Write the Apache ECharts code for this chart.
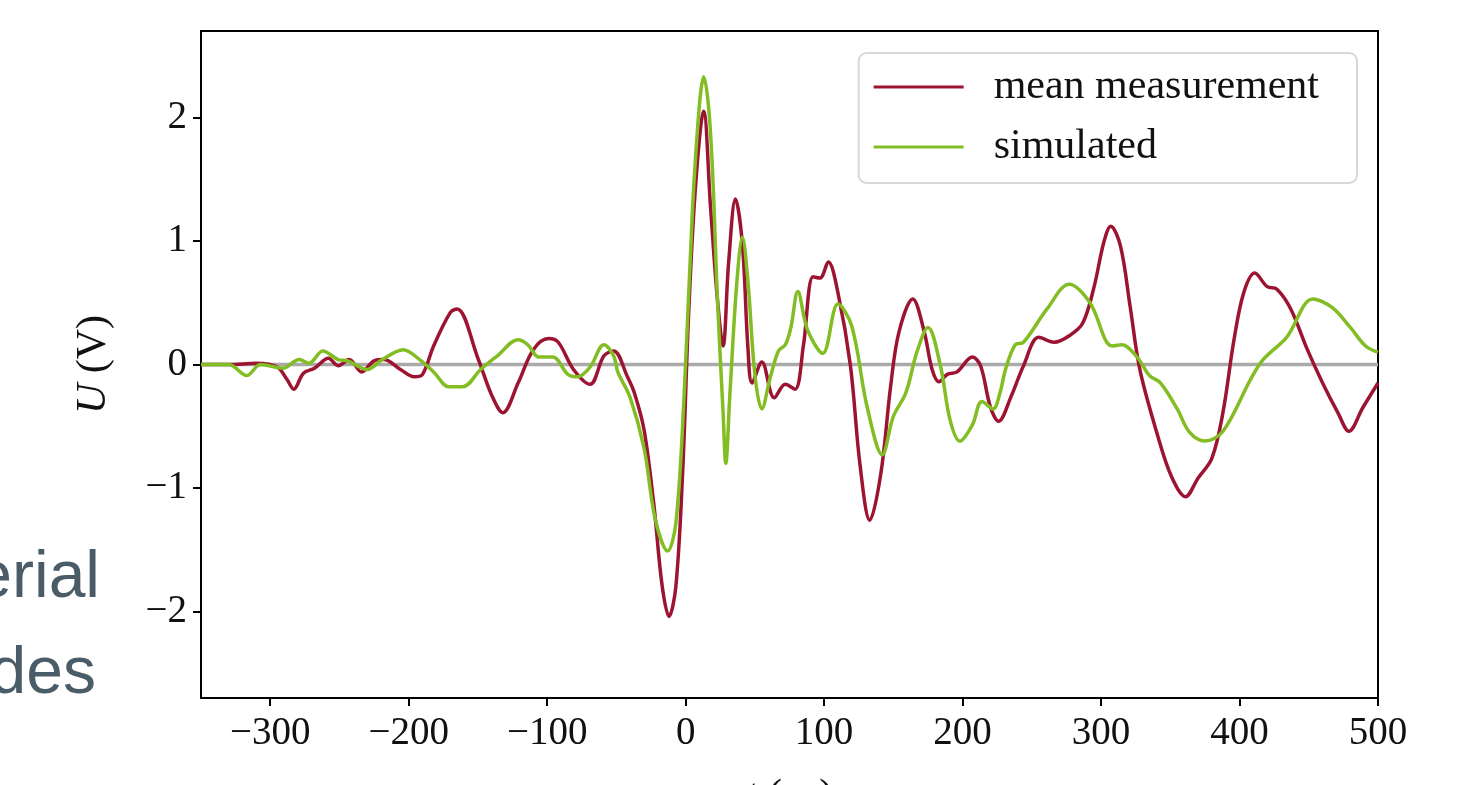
<!DOCTYPE html>
<html>
<head>
<meta charset="utf-8">
<script src="https://cdn.jsdelivr.net/npm/echarts@6/dist/echarts.min.js"></script>
<style>
  html, body { margin: 0; padding: 0; background: #fff; }
  #main { width: 1469px; height: 785px; }
</style>
</head>
<body>
<div id="main"></div>
<script>
// mean measurement, t in ps / U in V
var measTime = [-350, -330, -310, -295, -288, -283, -276, -268, -258, -251, -243, -234, -225, -218, -206, -196, -190, -182, -170, -165,
  -150, -140, -132, -121, -110, -99, -92, -81, -69, -59, -52, -42, -37, -30, -23, -17, -12, -7, -2, 2,
  7, 13, 18, 23, 27, 31, 36, 41, 45, 48, 55, 64, 72, 79, 85, 92, 97, 103, 110, 119,
  126, 133, 141, 148, 154, 164, 172, 178, 183, 189, 196, 207, 213, 220, 226, 235, 244, 255, 266, 278,
  287, 295, 302, 307, 314, 321, 328, 341, 351, 361, 370, 380, 388, 396, 403, 411, 420, 427, 437, 449,
  460, 471, 479, 489, 500]
var measVolt = [0, 0, 0.01, -0.02, -0.12, -0.2, -0.07, -0.03, 0.05, -0.01, 0.04, -0.06, 0.03, 0.04, -0.04, -0.10, -0.08, 0.15, 0.42, 0.45,
  0.05, -0.25, -0.39, -0.15, 0.12, 0.21, 0.18, -0.04, -0.16, 0.07, 0.11, -0.1, -0.23, -0.53, -1.13, -1.79, -2.04, -1.79, -0.83, 0.37,
  1.42, 2.05, 1.27, 0.52, 0.15, 0.82, 1.34, 0.97, 0.13, -0.15, 0.02, -0.27, -0.16, -0.2, 0.15, 0.71, 0.70, 0.83, 0.58, -0.01,
  -0.82, -1.26, -0.88, -0.18, 0.26, 0.53, 0.28, -0.04, -0.14, -0.08, -0.06, 0.06, -0.01, -0.34, -0.46, -0.26, -0.01, 0.22, 0.18, 0.24,
  0.34, 0.63, 0.99, 1.12, 0.96, 0.47, -0.04, -0.58, -0.91, -1.07, -0.92, -0.76, -0.39, 0.2, 0.58, 0.74, 0.63, 0.61, 0.45, 0.12,
  -0.15, -0.39, -0.54, -0.35, -0.15]

// simulated
var simTime = [-350, -330, -317, -307, -291, -279, -272, -262, -251, -244, -230, -219, -204, -191, -182, -171, -161, -148, -136, -121,
  -114, -106, -96, -85, -78, -69, -59, -52, -49, -40, -30, -22, -13, -7, -1, 5, 10, 13, 18, 23,
  27, 29, 32, 37, 41, 45, 50, 55, 61, 67, 72, 76, 81, 88, 99, 110, 120, 131, 142, 150,
  159, 167, 175, 184, 191, 198, 207, 214, 222, 227, 231, 238, 244, 261, 277, 292, 308, 315, 326, 335,
  343, 355, 364, 375, 388, 408, 417, 434, 453, 467, 480, 491, 500]
var simVolt = [0, 0, -0.09, 0, -0.03, 0.04, 0.01, 0.11, 0.04, 0.03, -0.04, 0.04, 0.12, 0.03, -0.06, -0.18, -0.18, -0.04, 0.07, 0.2,
  0.16, 0.06, 0.06, -0.08, -0.10, -0.02, 0.16, 0.07, -0.06, -0.27, -0.68, -1.25, -1.51, -1.28, -0.23, 1.27, 2.11, 2.33, 1.87, 0.52,
  -0.38, -0.8, -0.23, 0.67, 1.03, 0.67, -0.08, -0.36, -0.11, 0.11, 0.16, 0.3, 0.59, 0.28, 0.09, 0.49, 0.31, -0.34, -0.73, -0.42,
  -0.23, 0.1, 0.30, -0.01, -0.45, -0.62, -0.49, -0.30, -0.36, -0.23, -0.04, 0.16, 0.18, 0.45, 0.65, 0.50, 0.15, 0.16, 0.06, -0.09,
  -0.15, -0.36, -0.55, -0.62, -0.54, -0.12, 0.04, 0.22, 0.53, 0.46, 0.30, 0.15, 0.10]

var xTicks = [-300, -200, -100, 0, 100, 200, 300, 400, 500]
var yTicks = [-2, -1, 0, 1, 2]
var xRange = [-350, 500]
var yRange = [-2.7, 2.7]

function pairs(xs, ys) {
  return xs.map(function (x, i) { return [x, ys[i]] })
}
function minus(v) {
  return v < 0 ? '\u2212' + Math.abs(v) : String(v)
}

var serif = 'Liberation Serif'
var chart = echarts.init(document.getElementById('main'))

var tickStyle = { show: true, inside: false, length: 8, lineStyle: { color: '#000', width: 2 } }

var option = {
  animation: false,
  backgroundColor: '#fff',
  grid: {
    left: 201, right: 91, top: 31, bottom: 87,
    outerBoundsMode: 'none',
    containLabel: false,
    show: true, borderColor: '#000', borderWidth: 2
  },
  graphic: [
    // leftover text from the slide behind the figure
    { type: 'text', right: 1469 - 100, top: 546,
      style: { text: 'erial', fill: '#4a5c68', font: '66px "Liberation Sans"', textAlign: 'right' } },
    { type: 'text', right: 1469 - 96, top: 642,
      style: { text: 'des', fill: '#4a5c68', font: '66px "Liberation Sans"', textAlign: 'right' } }
  ],
  legend: {
    top: 53, right: 112,
    orient: 'vertical',
    data: ['mean measurement', 'simulated'],
    itemWidth: 90, itemHeight: 3, itemGap: 18,
    icon: 'rect',
    padding: [13, 38, 15, 15],
    borderColor: '#d8d8d8', borderWidth: 2, borderRadius: 8,
    backgroundColor: 'rgba(255,255,255,0.85)',
    textStyle: { fontFamily: serif, fontSize: 42, color: '#111', lineHeight: 40, padding: [0, 0, 0, 25] }
  },
  xAxis: {
    type: 'value', min: xRange[0], max: xRange[1],
    name: '{i|t} (ps)', nameLocation: 'middle', nameGap: 78,
    nameTextStyle: {
      fontFamily: serif, fontSize: 42, color: '#111',
      rich: { i: { fontFamily: serif, fontSize: 42, fontStyle: 'italic', color: '#111' } }
    },
    splitLine: { show: false },
    axisLine: { show: true, onZero: false, lineStyle: { color: '#000', width: 2 } },
    axisTick: Object.assign({ customValues: xTicks }, tickStyle),
    axisLabel: { fontFamily: serif, fontSize: 39, color: '#111', margin: 16, customValues: xTicks, formatter: minus }
  },
  yAxis: {
    type: 'value', min: yRange[0], max: yRange[1],
    name: '{i|U} (V)', nameLocation: 'middle', nameGap: 86,
    nameTextStyle: {
      fontFamily: serif, fontSize: 42, color: '#111',
      rich: { i: { fontFamily: serif, fontSize: 42, fontStyle: 'italic', color: '#111' } }
    },
    splitLine: { show: false },
    axisLine: { show: true, onZero: false, lineStyle: { color: '#000', width: 2 } },
    axisTick: Object.assign({ customValues: yTicks }, tickStyle),
    axisLabel: { fontFamily: serif, fontSize: 39, color: '#111', margin: 14, customValues: yTicks, formatter: minus }
  },
  series: [
    {
      name: 'zero', type: 'line', silent: true, symbol: 'none', z: 1,
      data: [[xRange[0], 0], [xRange[1], 0]],
      lineStyle: { color: '#aaaaaa', width: 3.5 }
    },
    {
      name: 'mean measurement', type: 'line', symbol: 'none', smooth: 0.35, z: 3,
      data: pairs(measTime, measVolt),
      itemStyle: { color: '#9c1431' },
      lineStyle: { color: '#9c1431', width: 3.5 }
    },
    {
      name: 'simulated', type: 'line', symbol: 'none', smooth: 0.35, z: 4,
      data: pairs(simTime, simVolt),
      itemStyle: { color: '#82bd24' },
      lineStyle: { color: '#82bd24', width: 3.5 }
    }
  ]
}

chart.setOption(option)
</script>
</body>
</html>
